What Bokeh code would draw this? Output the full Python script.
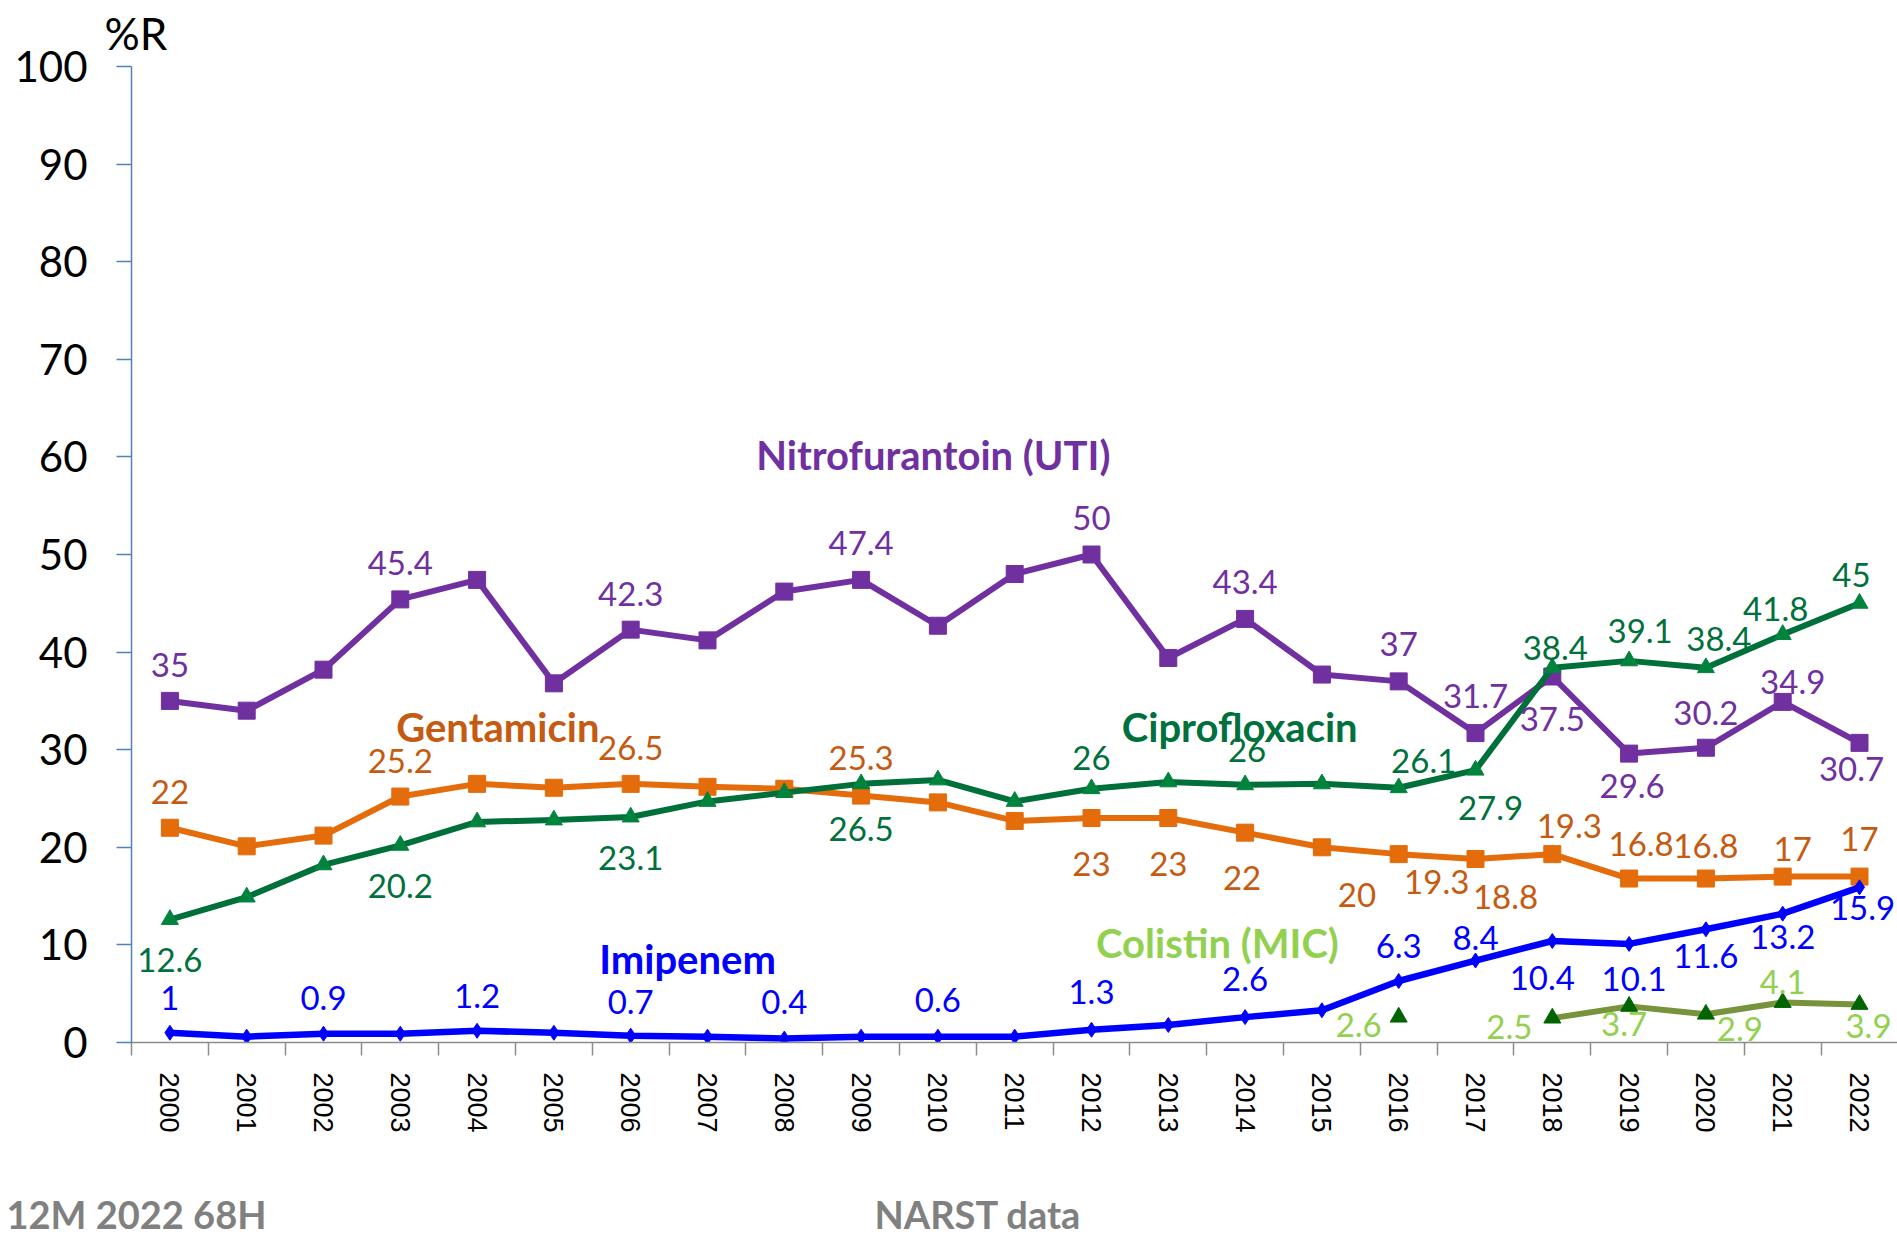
from bokeh.plotting import figure
from bokeh.layouts import column
from bokeh.models import Range1d, FixedTicker, ColumnDataSource, Label
from bokeh.core.properties import value
from bokeh.embed import file_html
from bokeh.resources import INLINE

NaN = float("nan")

years = [str(y) for y in range(2000, 2023)]

nitrofurantoin = [35, 34.0, 38.2, 45.4, 47.4, 36.8, 42.3, 41.2, 46.2, 47.4, 42.7, 48.0,
                  50, 39.4, 43.4, 37.7, 37, 31.7, 37.5, 29.6, 30.2, 34.9, 30.7]
gentamicin = [22, 20.1, 21.2, 25.2, 26.5, 26.1, 26.5, 26.2, 26.0, 25.3, 24.6, 22.7,
              23, 23, 21.5, 20, 19.3, 18.8, 19.3, 16.8, 16.8, 17, 17]
ciprofloxacin = [12.6, 14.9, 18.2, 20.2, 22.6, 22.8, 23.1, 24.7, 25.6, 26.5, 26.9, 24.7,
                 26, 26.7, 26.4, 26.5, 26.1, 27.9, 38.4, 39.1, 38.4, 41.8, 45]
imipenem = [1, 0.6, 0.9, 0.9, 1.2, 1.0, 0.7, 0.6, 0.4, 0.6, 0.6, 0.6,
            1.3, 1.8, 2.6, 3.3, 6.3, 8.4, 10.4, 10.1, 11.6, 13.2, 15.9]
colistin = [NaN] * 16 + [2.6, NaN, 2.5, 3.7, 2.9, 4.1, 3.9]

# data labels shown on the chart: (year index, text)
nitro_labels = [(0, "35"), (3, "45.4"), (6, "42.3"), (9, "47.4"), (12, "50"), (14, "43.4"),
                (16, "37"), (17, "31.7"), (18, "37.5"), (19, "29.6"), (20, "30.2"),
                (21, "34.9"), (22, "30.7")]
genta_labels = [(0, "22"), (3, "25.2"), (6, "26.5"), (9, "25.3"), (12, "23"), (13, "23"),
                (14, "22"), (15, "20"), (16, "19.3"), (17, "18.8"), (18, "19.3"),
                (19, "16.8"), (20, "16.8"), (21, "17"), (22, "17")]
cipro_labels = [(0, "12.6"), (3, "20.2"), (6, "23.1"), (9, "26.5"), (12, "26"), (14, "26"),
                (16, "26.1"), (17, "27.9"), (18, "38.4"), (19, "39.1"), (20, "38.4"),
                (21, "41.8"), (22, "45")]
imi_labels = [(0, "1"), (2, "0.9"), (4, "1.2"), (6, "0.7"), (8, "0.4"), (10, "0.6"),
              (12, "1.3"), (14, "2.6"), (16, "6.3"), (17, "8.4"), (18, "10.4"),
              (19, "10.1"), (20, "11.6"), (21, "13.2"), (22, "15.9")]
coli_labels = [(16, "2.6"), (18, "2.5"), (19, "3.7"), (20, "2.9"), (21, "4.1"), (22, "3.9")]

# label placement offsets in screen pixels (dx, dy; dy positive = downwards)
nitro_off = [(0, -36), (0, -36), (0, -36), (0, -37), (0, -37), (0, -37), (0, -37), (0, -37),
             (0, 42), (3, 32), (0, -35), (10, -20), (-8, 26)]
genta_off = [(0, -36), (0, -36), (0, -36), (0, -38), (0, 46), (0, 46), (-3, 45), (35, 48),
             (38, 28), (30, 38), (17, -28), (12, -35), (0, -33), (10, -28), (0, -38)]
cipro_off = [(0, 40), (0, 41), (0, 41), (0, 45), (0, -31), (2, -35), (25, -27), (15, 38),
             (3, -20), (11, -30), (13, -29), (-7, -26), (-8, -28)]
imi_off = [(0, -35), (0, -36), (0, -35), (0, -34), (0, -37), (0, -37), (0, -38), (0, -38),
           (0, -35), (0, -23), (-10, 37), (5, 35), (0, 27), (0, 23), (3, 21)]
coli_off = [(-40, 8), (-43, 9), (-5, 18), (34, 15), (0, -20), (9, 22)]

# series name annotations: (text, x in year index, y in %R, colour)
series_titles = [
    ("Nitrofurantoin (UTI)", 9.94, 60.2, "#7030A0"),
    ("Gentamicin", 4.27, 32.3, "#C55A11"),
    ("Ciprofloxacin", 13.93, 32.3, "#00703C"),
    ("Imipenem", 6.74, 8.6, "#0000FF"),
    ("Colistin (MIC)", 13.64, 10.2, "#92D050"),
]

W = 1897
H_MAIN, H_FOOT = 1180, 57
LEFT, TOP, FRAME_BOTTOM = 131, 66, 1042
px_per_x = 76.8
x_end = -0.5 + (W - LEFT) / px_per_x

p = figure(width=W, height=H_MAIN, output_backend="svg", toolbar_location=None,
           x_range=Range1d(-0.5, x_end), y_range=Range1d(0, 100),
           min_border_left=LEFT, min_border_right=0, min_border_top=TOP,
           min_border_bottom=H_MAIN - FRAME_BOTTOM)
p.frame_align = False
p.grid.visible = False
p.outline_line_color = None
p.background_fill_color = "white"
p.border_fill_color = "white"

# "%R" unit note above the axis
p.title.text = "%R"
p.title.align = "left"
p.title.vertical_align = "top"
p.title.offset = -27
p.title.text_font = "Lato"
p.title.text_font_style = "normal"
p.title.text_font_size = "44px"
p.title.text_color = "black"
p.title.standoff = 12

xs = list(range(len(years)))

# x axis
xa = p.xaxis[0]
xa.ticker = FixedTicker(ticks=xs, minor_ticks=[i - 0.5 for i in range(len(years) + 1)])
xa.major_label_overrides = {i: years[i] for i in xs}
xa.major_label_orientation = "vertical"
xa.major_tick_line_color = None
xa.major_tick_out = 13
xa.major_tick_in = 0
xa.minor_tick_out = 13
xa.minor_tick_in = 0
xa.minor_tick_line_color = "#8C8C8C"
xa.minor_tick_line_width = 1.5
xa.axis_line_color = "#8C8C8C"
xa.axis_line_width = 1.5
xa.major_label_text_font = "Liberation Sans"
xa.major_label_text_font_size = "27px"
xa.major_label_text_color = "black"
xa.major_label_standoff = 17

# y axis
ya = p.yaxis[0]
ya.ticker = FixedTicker(ticks=list(range(0, 101, 10)), minor_ticks=[])
ya.axis_line_color = "#4F81BD"
ya.axis_line_width = 1.5
ya.major_tick_line_color = "#4F81BD"
ya.major_tick_line_width = 1.5
ya.major_tick_out = 15
ya.major_tick_in = 0
ya.minor_tick_line_color = None
ya.major_label_text_font = "Lato"
ya.major_label_text_font_size = "42px"
ya.major_label_text_color = "black"
ya.major_label_standoff = 29


def series(vals, line_color, marker, msize, mcolor, lw=6):
    src = ColumnDataSource(dict(x=xs, y=vals))
    p.line("x", "y", source=src, line_width=lw, line_color=line_color, line_join="round")
    p.scatter("x", "y", source=src, marker=marker, size=msize, fill_color=mcolor,
              line_color=mcolor)


series(nitrofurantoin, "#7030A0", "square", 17, "#7030A0")
series(gentamicin, "#E46C0A", "square", 17, "#E46C0A")
series(ciprofloxacin, "#00703A", "triangle", 17, "#00843D")
series(imipenem, "#0000FF", "diamond", 15, "#0000FF", lw=6.5)
series(colistin, "#77933C", "triangle", 17, "#006400")


def labels(vals, lab, off, color):
    src = ColumnDataSource(dict(
        x=[i for i, _ in lab], y=[vals[i] for i, _ in lab], t=[t for _, t in lab],
        dx=[o[0] for o in off], dy=[o[1] for o in off]))
    p.text("x", "y", text="t", source=src, x_offset="dx", y_offset="dy",
           text_align="center", text_baseline="middle", text_color=color,
           text_font=value("Lato"), text_font_size="33px")


labels(nitrofurantoin, nitro_labels, nitro_off, "#7030A0")
labels(gentamicin, genta_labels, genta_off, "#C55A11")
labels(ciprofloxacin, cipro_labels, cipro_off, "#00703C")
labels(imipenem, imi_labels, imi_off, "#0000FF")
labels(colistin, coli_labels, coli_off, "#92D050")

for text, tx, ty, col in series_titles:
    p.add_layout(Label(x=tx, y=ty, text=text, text_align="center", text_baseline="middle",
                       text_font="Lato", text_font_style="bold", text_font_size="40px",
                       text_color=col))

# footer notes strip
foot = figure(width=W, height=H_FOOT, output_backend="svg", toolbar_location=None,
              x_range=Range1d(0, W), y_range=Range1d(0, H_FOOT), min_border=0,
              min_border_left=0, min_border_right=0, min_border_top=0, min_border_bottom=0,
              x_axis_type=None, y_axis_type=None)
foot.frame_align = False
foot.outline_line_color = None
foot.background_fill_color = "white"
foot.border_fill_color = "white"
foot_notes = ["12M 2022 68H", "NARST data"]
foot.text(x=[6, 874], y=[24, 24], text=foot_notes, text_align="left",
          text_baseline="middle", text_color="#808080", text_font=value("Lato"),
          text_font_style="bold", text_font_size="38px")

open("out.html", "w").write(file_html(column(p, foot, spacing=0), INLINE))
